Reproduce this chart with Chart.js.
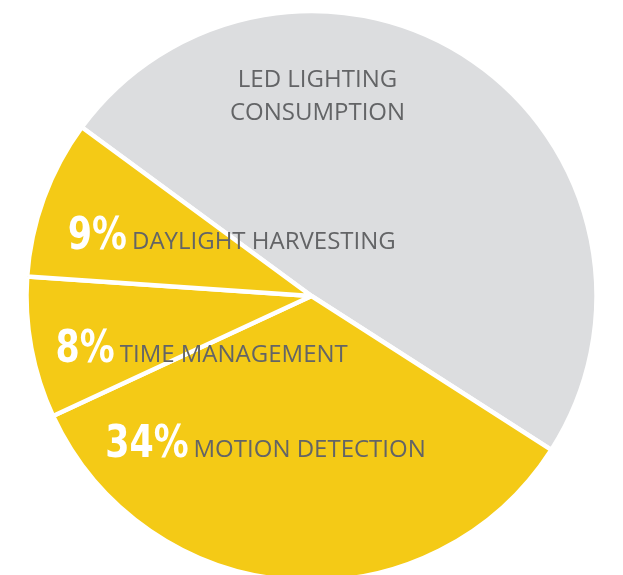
<html lang="en">
  <head>
    <meta charset="UTF-8" />
    <title>LED lighting savings</title>
    <style>
      html, body { margin: 0; padding: 0; background: #fff; overflow: hidden; }
      .container { width: 623px; height: 600px; position: relative; }
    </style>
  </head>
  <body>
    <div class="container">
      <canvas id="myChart"></canvas>
    </div>
  </body>
  <script src="https://cdn.jsdelivr.net/npm/chart.js@4"></script>
  <script>
    // slice data, clockwise from the grey slice
    const labels = ["LED LIGHTING CONSUMPTION", "MOTION DETECTION", "TIME MANAGEMENT", "DAYLIGHT HARVESTING"];
    const values = [49, 34, 8, 9];
    const percentLabels = ["", "34%", "8%", "9%"];
    const colors = ["#dcdddf", "#f4ca16", "#f4ca16", "#f4ca16"];

    // where each label sits, as fractions of the radius from the centre
    const labelSpots = [
      { fx: 0.021, fy: -0.735, center: true, lines: ["LED LIGHTING", "CONSUMPTION"] },
      { fx: -0.724, fy: 0.565 },
      { fx: -0.898, fy: 0.233 },
      { fx: -0.855, fy: -0.166 },
    ];

    const textGrey = "#636466";
    const labelFont = "24px 'Open Sans', sans-serif";
    const pctFont = "bold 44px 'DejaVu Sans Condensed', sans-serif";
    const pctSquash = 0.88; // the original uses a narrower bold face

    const sliceLabels = {
      id: "sliceLabels",
      afterDatasetsDraw(chart) {
        const ctx = chart.ctx;
        const arc = chart.getDatasetMeta(0).data[0];
        const cx = arc.x, cy = arc.y, r = arc.outerRadius;
        ctx.save();
        ctx.textBaseline = "alphabetic";
        labelSpots.forEach((spot, i) => {
          let x = cx + spot.fx * r;
          let y = cy + spot.fy * r;
          if (spot.center) {
            ctx.font = labelFont;
            ctx.fillStyle = textGrey;
            ctx.textAlign = "center";
            spot.lines.forEach((line, j) => {
              ctx.fillText(line, x, y + j * 33);
            });
            return;
          }
          ctx.textAlign = "left";
          ctx.font = pctFont;
          ctx.fillStyle = "#ffffff";
          ctx.save();
          ctx.translate(x, y);
          ctx.scale(pctSquash, 1);
          ctx.fillText(percentLabels[i], 0, 0);
          ctx.restore();
          x += ctx.measureText(percentLabels[i]).width * pctSquash + 5;
          ctx.font = labelFont;
          ctx.fillStyle = textGrey;
          ctx.fillText(labels[i], x, y);
        });
        ctx.restore();
      },
    };

    const ctx = document.getElementById("myChart").getContext("2d");
    const myChart = new Chart(ctx, {
      type: "pie",
      data: {
        labels: labels,
        datasets: [
          {
            data: values,
            backgroundColor: colors,
            borderColor: "#ffffff",
            borderWidth: 4.5,
            radius: 285,
          },
        ],
      },
      options: {
        responsive: true,
        maintainAspectRatio: false,
        animation: false,
        rotation: 306.3,
        layout: { padding: { left: 26.5, right: 26.5, top: 11, bottom: 19 } },
        plugins: {
          legend: { display: false },
          tooltip: { enabled: false },
        },
      },
      plugins: [sliceLabels],
    });
  </script>
</html>
